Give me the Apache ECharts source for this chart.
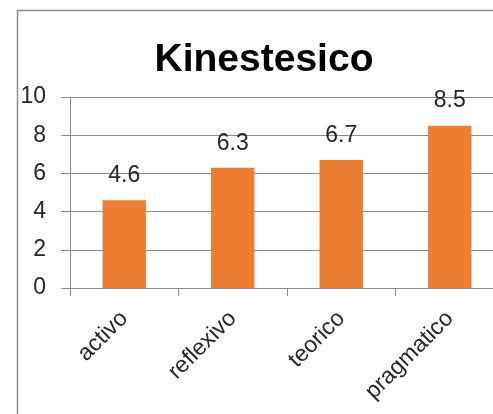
<!DOCTYPE html>
<html>
<head>
<meta charset="utf-8">
<script src="https://cdn.jsdelivr.net/npm/echarts@6/dist/echarts.min.js"></script>
<style>html,body{margin:0;padding:0;background:#fff}#c{width:493px;height:414px}</style>
</head>
<body>
<div id="c"></div>
<script>
var title = 'Kinestesico';
var categories = ['activo', 'reflexivo', 'teorico', 'pragmatico'];
var values = [4.6, 6.3, 6.7, 8.5];
var yTicks = [0, 2, 4, 6, 8, 10];

var chart = echarts.init(document.getElementById('c'), null, {renderer: 'canvas'});
chart.setOption({
  animation: false,
  backgroundColor: '#ffffff',
  graphic: [{
    type: 'rect', left: 15, top: 8, z: -1,
    shape: {x: 0, y: 0, width: 600, height: 600},
    style: {fill: 'none', stroke: '#8c8c8c', lineWidth: 1.5}
  }],
  title: {
    text: title, left: 259, top: 36, textAlign: 'center',
    textStyle: {fontFamily: 'Liberation Sans', fontWeight: 'bold', fontSize: 39, color: '#000'}
  },
  grid: {left: 70, top: 97, height: 191, width: 434, containLabel: false, outerBoundsMode: 'none'},
  xAxis: {
    type: 'category', data: categories,
    axisLine: {lineStyle: {color: '#8c8c8c', width: 1}},
    axisTick: {show: true, length: 8, alignWithLabel: false, lineStyle: {color: '#8c8c8c'}},
    axisLabel: {rotate: 45, margin: 27, fontFamily: 'Liberation Sans', fontSize: 23, color: '#262626', interval: 0}
  },
  yAxis: {
    type: 'value', min: yTicks[0], max: yTicks[yTicks.length - 1], interval: 2,
    axisLine: {show: true, lineStyle: {color: '#8c8c8c', width: 1}},
    axisTick: {show: true, length: 9, lineStyle: {color: '#8c8c8c'}},
    splitLine: {show: true, lineStyle: {color: '#8c8c8c', width: 1}},
    axisLabel: {margin: 24, fontFamily: 'Liberation Sans', fontSize: 23, color: '#262626'}
  },
  series: [{
    type: 'bar', data: values, barWidth: '40%',
    itemStyle: {color: '#ED7D31'},
    label: {show: true, position: 'top', distance: 13, fontFamily: 'Liberation Sans', fontSize: 23, color: '#262626'}
  }]
});
</script>
</body>
</html>
